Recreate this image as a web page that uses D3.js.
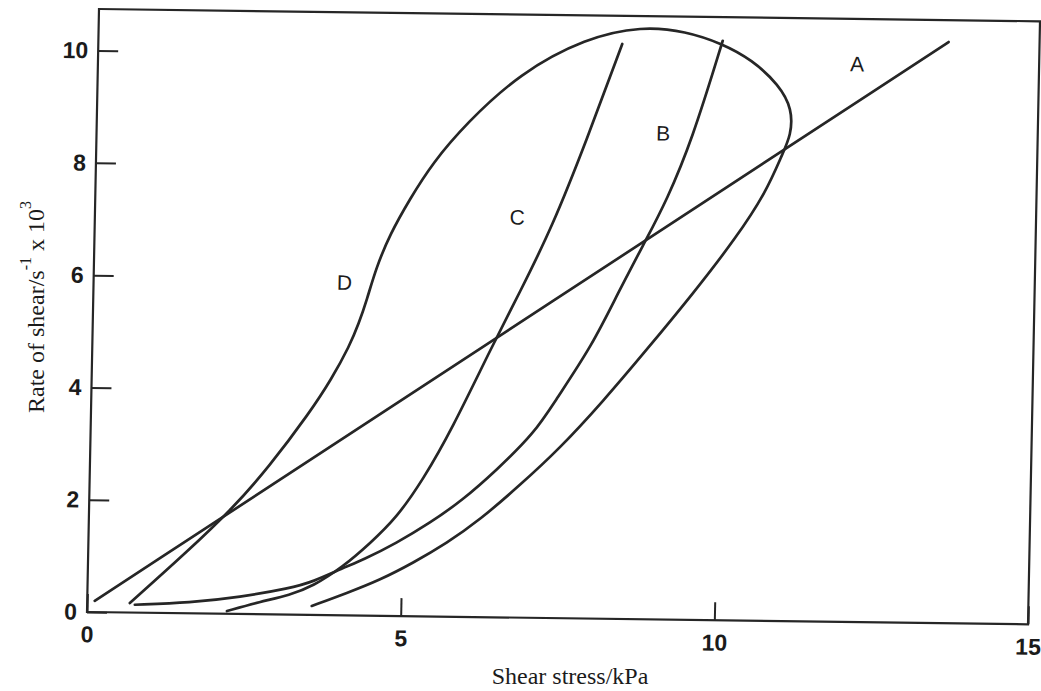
<!DOCTYPE html>
<html>
<head>
<meta charset="utf-8">
<script src="https://cdn.jsdelivr.net/npm/d3@7"></script>
<style>
  html, body { margin: 0; padding: 0; background: #fff; }
  svg { display: block; }
</style>
</head>
<body>
<svg id="chart" width="1041" height="691"></svg>
<script>
// axis setup
const xDomain = [0, 15];
const yDomain = [0, 10.74];
const xTicks = [0, 5, 10, 15];
const yTicks = [0, 2, 4, 6, 8, 10];
const xTitle = "Shear stress/kPa";

// curves, [shear stress kPa, rate of shear x 10^3]
const curveA = [[0.12, 0.2], [6.38, 4.93], [13.55, 10.35]];

const curveB = [
  [0.76, 0.14], [1.64, 0.19], [2.43, 0.3], [3.23, 0.47], [3.59, 0.59],
  [4.06, 0.84], [4.38, 0.99], [4.91, 1.3], [5.43, 1.66], [5.95, 2.08],
  [6.48, 2.62], [7.08, 3.3], [7.4, 3.88], [7.97, 4.87], [8.38, 5.85],
  [8.81, 6.8], [9.1, 7.45], [9.49, 8.53], [9.95, 10.32],
];

const curveC = [
  [2.23, 0.05], [2.75, 0.22], [3.23, 0.35], [3.59, 0.51], [4.06, 0.86],
  [4.49, 1.29], [4.91, 1.76], [5.31, 2.43], [5.75, 3.32], [6.38, 4.85],
  [6.79, 5.78], [7.29, 6.96], [7.81, 8.51], [8.35, 10.24],
];

const curveD = [
  [0.68, 0.17], [1.57, 1.09], [2.29, 1.88], [2.85, 2.62], [3.49, 3.61],
  [3.82, 4.2], [4.1, 4.8], [4.24, 5.2], [4.36, 5.62], [4.5, 6.2],
  [4.71, 6.8], [5.01, 7.42], [5.36, 8.07], [5.89, 8.79], [6.72, 9.69],
  [7.77, 10.34], [8.66, 10.56], [9.36, 10.48], [9.94, 10.27], [10.42, 9.99],
  [10.86, 9.55], [11.08, 9.12], [11.07, 8.66], [10.93, 8.3], [10.69, 7.64],
  [10.23, 6.82], [9.55, 5.8], [8.85, 4.82], [8.15, 3.86], [7.48, 3.02],
  [6.86, 2.36], [6.23, 1.73], [5.71, 1.31], [5.18, 0.95], [4.66, 0.64],
  [4.14, 0.4], [3.58, 0.16],
];

const curveNames = ["A", "B", "C", "D"];
const labelX = [12.1, 9.03, 6.73, 4.0];
const labelY = [9.94, 8.66, 7.13, 5.93];

(function drawChart() {
  const svg = d3.select("#chart");

  const innerWidth = 941;
  const innerHeight = 603;
  const ink = "#262626";
  const sans = "'Liberation Sans', Arial, Helvetica, sans-serif";
  const serif = "'Liberation Serif', 'Times New Roman', Times, serif";

  // the scanned figure is a little tilted, so the plot frame is sheared to match
  const plot = svg
    .append("g")
    .attr("transform", "matrix(1,0.0131,-0.0199,1,99,9)");

  const x = d3.scaleLinear().domain(xDomain).range([0, innerWidth]);
  const y = d3.scaleLinear().domain(yDomain).range([innerHeight, 0]);

  const xAxis = d3
    .axisBottom(x)
    .tickValues(xTicks)
    .tickSizeInner(-18)
    .tickSizeOuter(0)
    .tickPadding(14);

  const yAxis = d3
    .axisLeft(y)
    .tickValues(yTicks)
    .tickSizeInner(-20)
    .tickSizeOuter(0)
    .tickPadding(10);

  const xAxisG = plot
    .append("g")
    .attr("transform", `translate(0,${innerHeight})`)
    .call(xAxis);
  const yAxisG = plot.append("g").call(yAxis);

  [xAxisG, yAxisG].forEach((g) => {
    g.select(".domain").remove();
    g.selectAll(".tick line").attr("stroke", ink).attr("stroke-width", 2);
    g.selectAll(".tick text")
      .attr("fill", "#1b1b1b")
      .style("font-family", sans)
      .style("font-weight", "bold")
      .style("font-size", "23px");
  });

  plot
    .append("rect")
    .attr("x", 0)
    .attr("y", 0)
    .attr("width", innerWidth)
    .attr("height", innerHeight)
    .attr("fill", "none")
    .attr("stroke", ink)
    .attr("stroke-width", 2.2);

  const line = d3
    .line()
    .x((d) => x(d[0]))
    .y((d) => y(d[1]))
    .curve(d3.curveBasis);

  plot
    .selectAll("path.curve")
    .data([curveA, curveB, curveC, curveD])
    .join("path")
    .attr("class", "curve")
    .attr("d", line)
    .attr("fill", "none")
    .attr("stroke", ink)
    .attr("stroke-width", 2.7)
    .attr("stroke-linecap", "round")
    .attr("stroke-linejoin", "round");

  plot
    .selectAll("text.curve-label")
    .data(curveNames)
    .join("text")
    .attr("class", "curve-label")
    .attr("x", (d, i) => x(labelX[i]))
    .attr("y", (d, i) => y(labelY[i]))
    .attr("text-anchor", "middle")
    .attr("dominant-baseline", "central")
    .attr("fill", "#1b1b1b")
    .style("font-family", sans)
    .style("font-size", "21px")
    .text((d) => d);

  // axis titles
  svg
    .append("text")
    .attr("x", 570)
    .attr("y", 684)
    .attr("text-anchor", "middle")
    .attr("fill", "#1b1b1b")
    .style("font-family", serif)
    .style("font-size", "24px")
    .text(xTitle);

  const yTitle = svg
    .append("text")
    .attr("transform", "translate(44,307) rotate(-90)")
    .attr("text-anchor", "middle")
    .attr("fill", "#1b1b1b")
    .style("font-family", serif)
    .style("font-size", "24px");

  yTitle.append("tspan").text("Rate of shear/s");
  yTitle
    .append("tspan")
    .attr("dy", -13)
    .style("font-size", "16px")
    .text("-1");
  yTitle.append("tspan").attr("dy", 13).text("  x 10");
  yTitle
    .append("tspan")
    .attr("dy", -13)
    .style("font-size", "16px")
    .text("3");
})();
</script>
</body>
</html>
